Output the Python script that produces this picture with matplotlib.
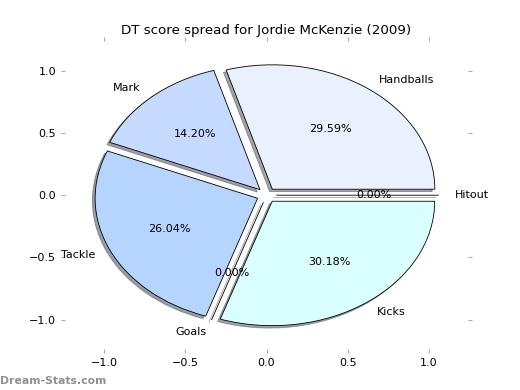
import matplotlib
matplotlib.use('Agg')
import matplotlib.pyplot as plt

# Dados do gráfico
labels = ['Handballs', 'Mark', 'Tackle', 'Goals', 'Kicks', 'Hitout']
values = [29.59, 14.20, 26.04, 0.0, 30.18, 0.0]
colors = ['#eaf0fe', '#c6d9ff', '#b5d5ff', '#c6ffd9', '#d9ffff', '#ffffff']
explode = [0.06] * len(values)

fig, ax = plt.subplots(figsize=(5.2, 3.9), dpi=100)
fig.subplots_adjust(left=0.125, right=0.9, bottom=0.104, top=0.895)

wedges, texts, autotexts = ax.pie(values, labels=labels, colors=colors, explode=explode,
                                  autopct='%.2f%%', frame=True,
                                  shadow={'ox': -0.012, 'oy': -0.014, 'shade': 0.7},
                                  wedgeprops={'edgecolor': 'black', 'linewidth': 0.6},
                                  textprops={'fontsize': 8})
ax.set_aspect('auto')
ax.set_xlim(-1.24, 1.24)
ax.set_ylim(-1.24, 1.24)
ax.set_xticks([-1.0, -0.5, 0.0, 0.5, 1.0])
ax.set_yticks([-1.0, -0.5, 0.0, 0.5, 1.0])
for s in ax.spines.values():
    s.set_visible(False)
ax.tick_params(labelsize=8, color='#aaaaaa', top=True, right=True, length=3)

ax.set_title('DT score spread for Jordie McKenzie (2009)', fontsize=9.6, pad=5)
fig.text(0.0, 0.016, 'Dream-Stats.com', fontsize=7.8, color='#909090', fontweight='semibold')

fig.savefig('out.png', dpi=100)
